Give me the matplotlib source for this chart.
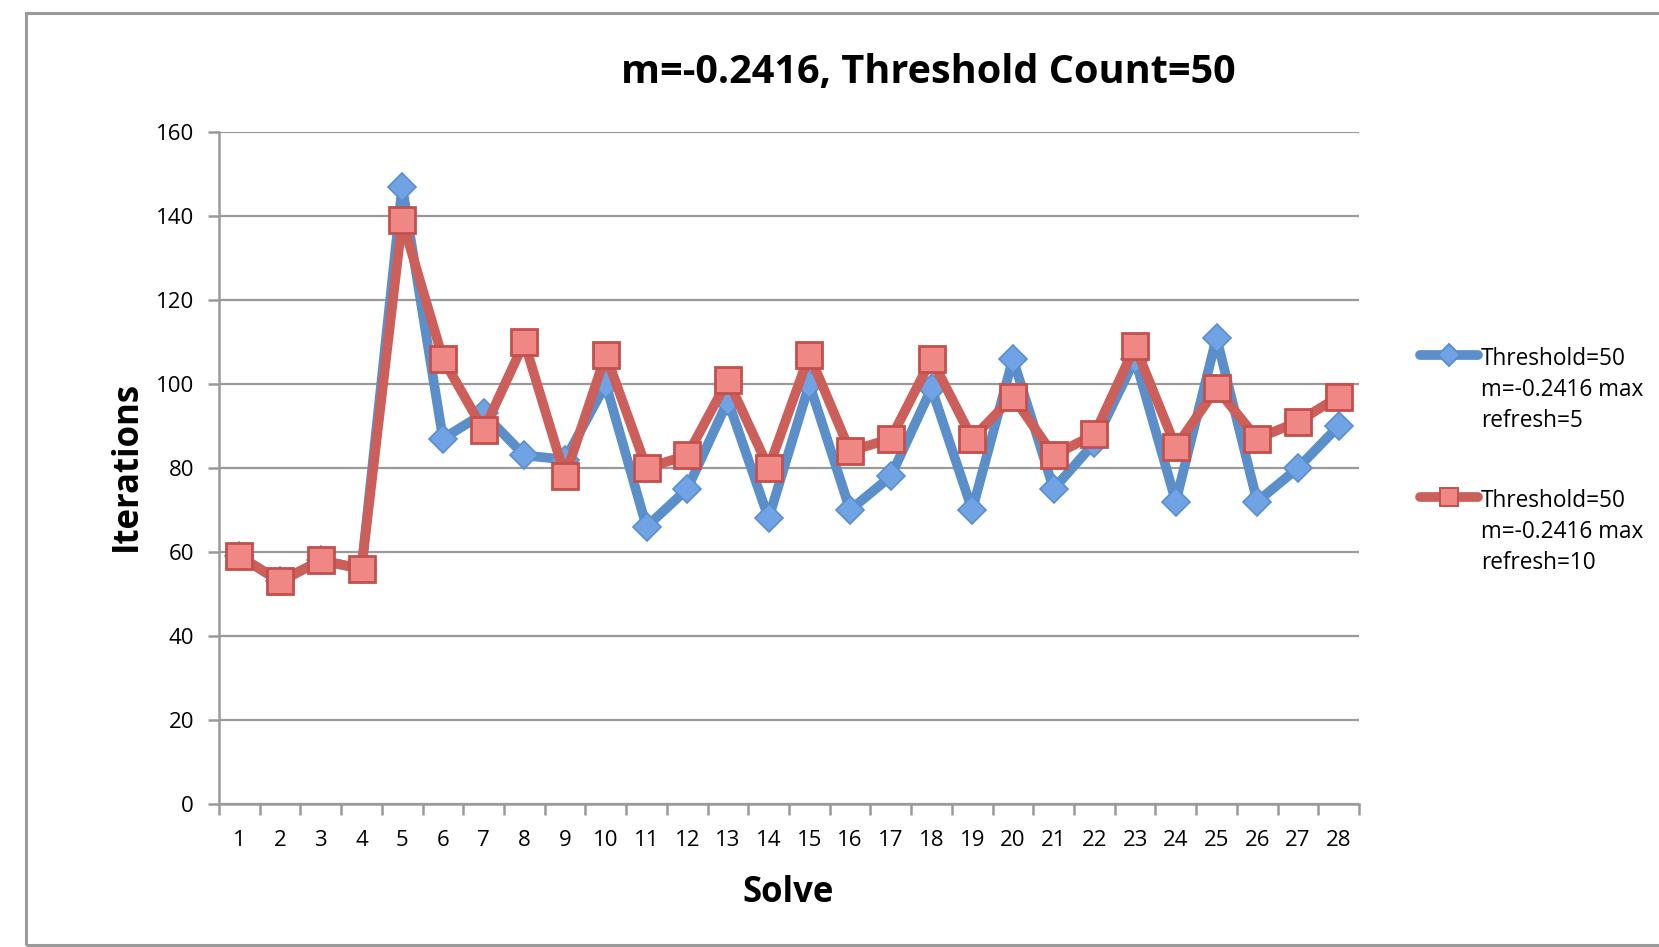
import matplotlib
matplotlib.use("Agg")
import matplotlib.pyplot as plt
from matplotlib.lines import Line2D
from matplotlib.patches import Rectangle

plt.rcParams['font.family'] = ['Open Sans', 'DejaVu Sans']

# iterations per solve for the two refresh settings
solves = list(range(1, 29))
refresh5 = [59, 53, 58, 56, 147, 87, 93, 83, 82, 100, 66, 75, 96, 68,
            100, 70, 78, 99, 70, 106, 75, 86, 106, 72, 111, 72, 80, 90]
refresh10 = [59, 53, 58, 56, 139, 106, 89, 110, 78, 107, 80, 83, 101, 80,
             107, 84, 87, 106, 87, 97, 83, 88, 109, 85, 99, 87, 91, 97]
labels = ["Threshold=50\nm=-0.2416 max\nrefresh=5",
          "Threshold=50\nm=-0.2416 max\nrefresh=10"]

blue_line, blue_face, blue_edge = '#5B8FC9', '#6FA3E3', '#5A8ED0'
red_line, red_face, red_edge = '#CD5F5A', '#EF8784', '#C4504C'
grey = '#9A9A9A'

fig = plt.figure(figsize=(16.59, 9.47), dpi=100)
ax = fig.add_axes([219 / 1659, 1 - 804 / 947, 1140 / 1659, 672 / 947])

ax.plot(solves, refresh5, color=blue_line, lw=7, marker='D', ms=14,
        mfc=blue_face, mec=blue_edge, mew=1.2, zorder=3)
ax.plot(solves, refresh10, color=red_line, lw=7, marker='s', ms=19,
        mfc=red_face, mec=red_edge, mew=2, zorder=4)

ax.set_xlim(0.5, 28.5)
ax.set_ylim(0, 160)
ax.set_yticks(range(0, 161, 20))
ax.set_xticks(solves)
ax.set_xticks([i + 0.5 for i in range(0, 29)], minor=True)
ax.tick_params(axis='x', which='major', length=0, pad=19, labelsize=16)
ax.tick_params(axis='x', which='minor', length=8, width=1.8, color=grey)
ax.tick_params(axis='y', length=8, width=1.8, color=grey, pad=10, labelsize=16)
ax.yaxis.grid(True, color=grey, lw=1.6)
ax.set_axisbelow(True)
for side in ('top', 'right'):
    ax.spines[side].set_visible(False)
for side in ('left', 'bottom'):
    ax.spines[side].set_color(grey)
    ax.spines[side].set_linewidth(1.8)

fig.text(928 / 1659, 1 - 73 / 947, "m=-0.2416, Threshold Count=50",
         ha='center', va='center', fontsize=28.5, fontweight='bold')
fig.text(127 / 1659, 1 - 466 / 947, "Iterations", rotation=90,
         ha='center', va='center', fontsize=25, fontweight='bold')
fig.text(788 / 1659, 1 - 893 / 947, "Solve",
         ha='center', va='center', fontsize=25, fontweight='bold')

# legend entries, handle level with the first text line
for i, (lbl, lc, mk, mf, me, ms) in enumerate([
        (labels[0], blue_line, 'D', blue_face, blue_edge, 11),
        (labels[1], red_line, 's', red_face, red_edge, 13)]):
    y0 = 355 + i * 142
    yf = 1 - y0 / 947
    fig.add_artist(Line2D([1420 / 1659, 1478 / 1659], [yf, yf], color=lc,
                          lw=7, solid_capstyle='round'))
    fig.add_artist(Line2D([1449 / 1659], [yf], marker=mk, ms=ms, mfc=mf,
                          mec=me, mew=1.4, lw=0))
    fig.text(1481 / 1659, 1 - (y0 - 8) / 947, lbl, ha='left', va='top',
             fontsize=16.3, linespacing=1.38)

# chart frame
fig.add_artist(Rectangle((26 / 1659, 1 - 945 / 947), 1.0, 932 / 947,
                         transform=fig.transFigure, fill=False,
                         edgecolor=grey, lw=2.2))

fig.savefig('out.png', dpi=100)
